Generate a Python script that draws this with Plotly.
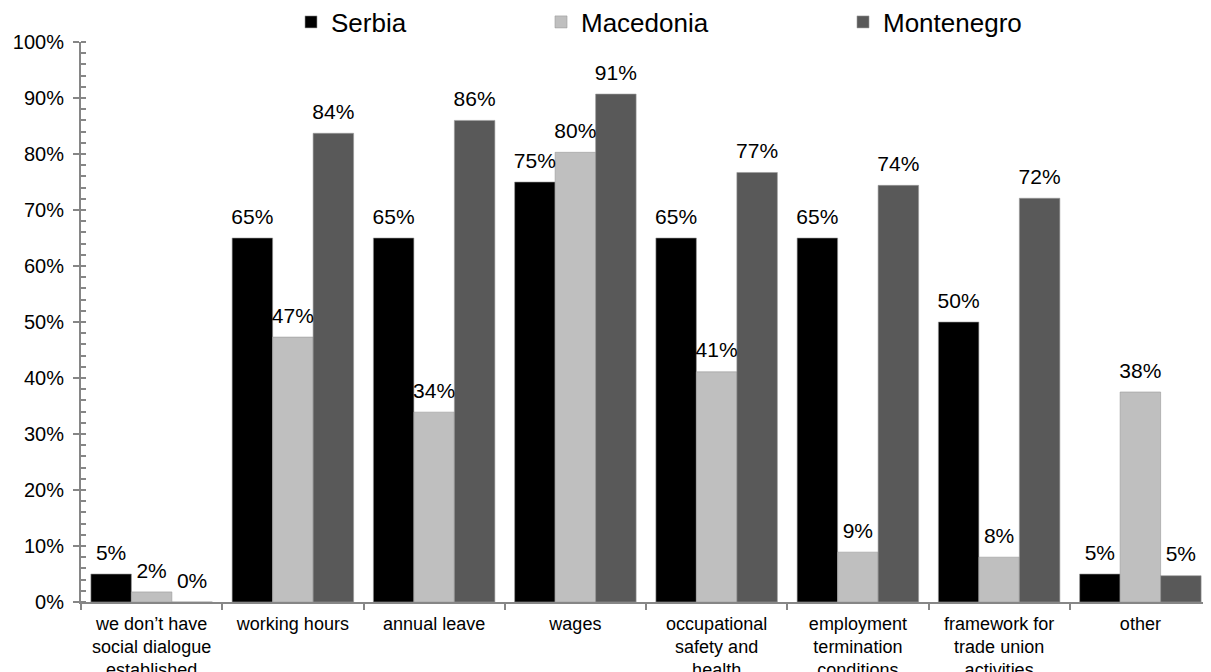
import plotly.graph_objects as go

categories = [
    "we don’t have<br>social dialogue<br>established",
    "working hours",
    "annual leave",
    "wages",
    "occupational<br>safety and<br>health",
    "employment<br>termination<br>conditions",
    "framework for<br>trade union<br>activities",
    "other",
]
serbia = [5.0, 65.0, 65.0, 75.0, 65.0, 65.0, 50.0, 5.0]
macedonia = [1.8, 47.3, 33.9, 80.3, 41.1, 8.9, 8.0, 37.5]
montenegro = [0.0, 83.7, 86.0, 90.7, 76.7, 74.4, 72.1, 4.7]

series_names = ["Serbia", "Macedonia", "Montenegro"]
series_values = [serbia, macedonia, montenegro]
series_colors = ["#000000", "#BFBFBF", "#595959"]
legend_ids = ["legend", "legend2", "legend3"]

FONT = "Liberation Sans, Arial, sans-serif"
PAGE_OFF = 8            # default body margin of the html page
W, H = 1211 - PAGE_OFF, 672 - PAGE_OFF
legend_text_x = [331, 581, 883]  # left edge of legend text on the page (px)

fig = go.Figure()
for name, vals, col, lid in zip(series_names, series_values, series_colors, legend_ids):
    fig.add_trace(go.Bar(
        x=categories, y=vals, name=name,
        marker=dict(color=col, line=dict(color="#9a9a9a", width=0.6)),
        offsetgroup=name, alignmentgroup="a", legend=lid,
    ))
for name, vals, col in zip(series_names, series_values, series_colors):
    fig.add_trace(go.Scatter(
        x=categories, y=vals, mode="markers+text",
        text=[f"{round(v):d}%" for v in vals],
        textposition="top center",
        textfont=dict(family=FONT, size=21, color="#000000"),
        marker=dict(size=13, opacity=0),
        offsetgroup=name, alignmentgroup="a",
        showlegend=False, hoverinfo="skip", cliponaxis=False,
    ))

legend_common = dict(
    orientation="h", xanchor="left", yanchor="middle",
    xref="container", yref="container", y=1 - (22 - PAGE_OFF) / H,
    font=dict(family=FONT, size=26, color="#000000"),
    bgcolor="rgba(0,0,0,0)",
)

def lx(px):
    return (px - PAGE_OFF - 40) / W

fig.update_layout(
    width=W, height=H,
    margin=dict(l=81 - PAGE_OFF, r=0, t=42 - PAGE_OFF, b=70, autoexpand=False),
    paper_bgcolor="white", plot_bgcolor="white",
    barmode="group", scattermode="group",
    bargap=0.14, bargroupgap=0.0, scattergap=0.14,
    font=dict(family=FONT, color="#000000"),
    legend=dict(x=lx(legend_text_x[0]), **legend_common),
    legend2=dict(x=lx(legend_text_x[1]), **legend_common),
    legend3=dict(x=lx(legend_text_x[2]), **legend_common),
    showlegend=True,
)
fig.update_yaxes(
    range=[0, 100], dtick=10, ticksuffix="%",
    showgrid=False, zeroline=False,
    showline=True, linecolor="#868686", linewidth=2,
    ticks="outside", ticklen=6, tickcolor="#868686", tickwidth=2,
    ticklabelstandoff=5,
    minor=dict(dtick=2, ticks="inside", ticklen=5, tickcolor="#868686", tickwidth=1.5),
    tickfont=dict(family=FONT, size=20, color="#000000"),
)
fig.update_xaxes(
    showgrid=False, showline=True, linecolor="#868686", linewidth=2,
    ticks="outside", tickson="boundaries", ticklen=6, tickcolor="#868686", tickwidth=2,
    ticklabelstandoff=4,
    tickfont=dict(family=FONT, size=18, color="#000000"),
    tickangle=0,
)

fig.write_html("out.html")
